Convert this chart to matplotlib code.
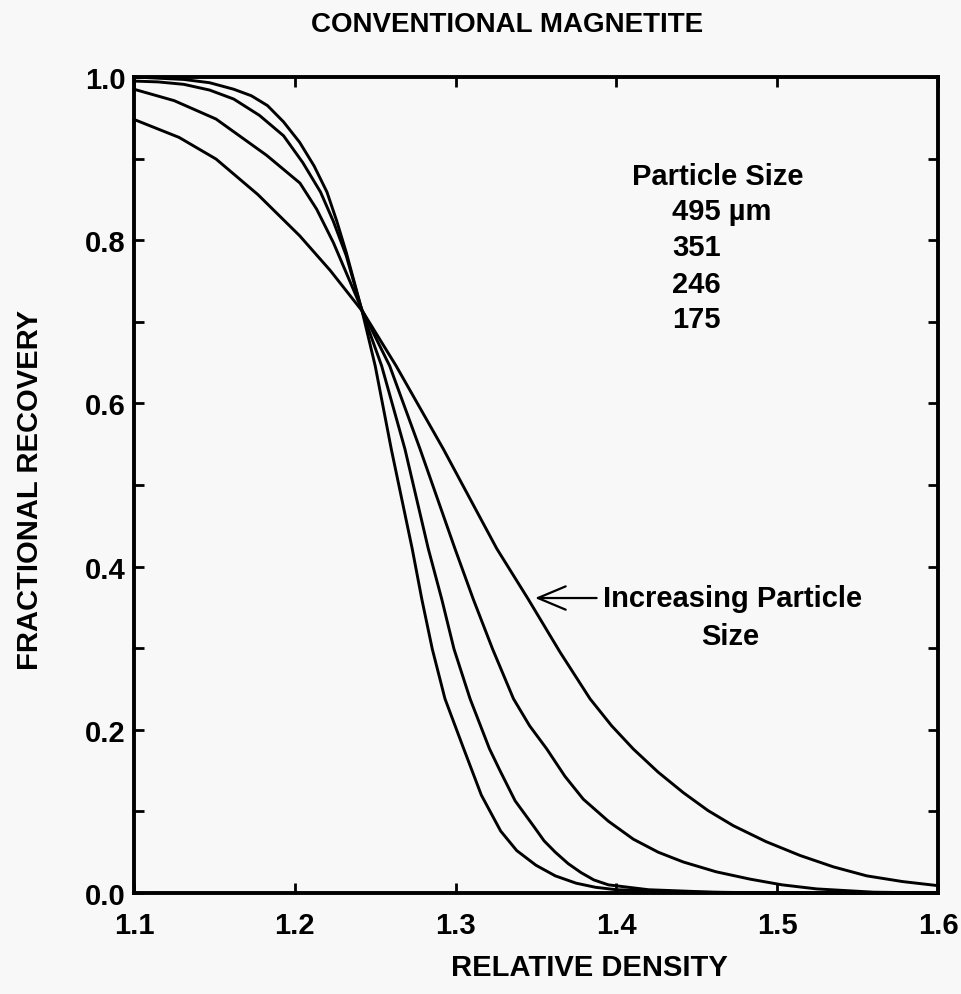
import matplotlib
matplotlib.use("Agg")
import matplotlib.pyplot as plt
from matplotlib.ticker import MultipleLocator

plt.rcParams['font.family'] = ['Liberation Sans', 'DejaVu Sans']
plt.rcParams['font.weight'] = 'bold'

# ---- data ----
rd_495 = [1.100, 1.131, 1.147, 1.162, 1.173, 1.183, 1.193, 1.203, 1.212, 1.220, 1.226, 1.232,
          1.242, 1.250, 1.260, 1.273, 1.279, 1.2855, 1.2934, 1.305, 1.316, 1.328, 1.338, 1.350,
          1.362, 1.375, 1.387, 1.400, 1.450, 1.500, 1.600]
rec_495 = [1.000, 0.997, 0.993, 0.985, 0.977, 0.965, 0.945, 0.920, 0.891, 0.859, 0.824, 0.785,
           0.712, 0.646, 0.544, 0.422, 0.360, 0.299, 0.238, 0.177, 0.120, 0.076, 0.052, 0.034,
           0.021, 0.012, 0.007, 0.004, 0.001, 0.000, 0.000]

rd_351 = [1.100, 1.115, 1.131, 1.147, 1.162, 1.178, 1.193, 1.205, 1.216, 1.224, 1.232, 1.242,
          1.254, 1.2685, 1.283, 1.2914, 1.299, 1.309, 1.321, 1.3276, 1.337, 1.3483, 1.355, 1.362,
          1.370, 1.378, 1.386, 1.395, 1.420, 1.460, 1.500, 1.600]
rec_351 = [0.995, 0.994, 0.991, 0.984, 0.973, 0.953, 0.928, 0.895, 0.859, 0.823, 0.781, 0.712,
           0.646, 0.544, 0.422, 0.360, 0.299, 0.238, 0.177, 0.150, 0.113, 0.0825, 0.064, 0.050,
           0.036, 0.025, 0.016, 0.010, 0.004, 0.001, 0.000, 0.000]

rd_246 = [1.100, 1.125, 1.151, 1.1825, 1.2032, 1.2136, 1.224, 1.2424, 1.259, 1.2779, 1.2996,
          1.311, 1.323, 1.336, 1.346, 1.3567, 1.368, 1.3794, 1.395, 1.4105, 1.426, 1.4416,
          1.462, 1.4831, 1.503, 1.5246, 1.560, 1.600]
rec_246 = [0.985, 0.971, 0.9485, 0.904, 0.870, 0.838, 0.797, 0.712, 0.646, 0.544, 0.422,
           0.360, 0.299, 0.238, 0.205, 0.1765, 0.143, 0.115, 0.088, 0.066, 0.050, 0.038,
           0.026, 0.017, 0.010, 0.005, 0.001, 0.000]

rd_175 = [1.100, 1.128, 1.151, 1.177, 1.203, 1.222, 1.2424, 1.263, 1.2924, 1.309, 1.3256,
          1.3452, 1.365, 1.3836, 1.397, 1.4105, 1.426, 1.4416, 1.457, 1.4727, 1.493, 1.5142,
          1.535, 1.5557, 1.578, 1.600]
rec_175 = [0.948, 0.926, 0.8995, 0.856, 0.8055, 0.763, 0.712, 0.646, 0.544, 0.483, 0.422,
           0.360, 0.295, 0.238, 0.205, 0.1765, 0.148, 0.123, 0.101, 0.0825, 0.063, 0.046,
           0.032, 0.021, 0.014, 0.009]

size_labels = ["495 \u00b5m", "351", "246", "175"]
x_ticks = [1.1, 1.2, 1.3, 1.4, 1.5, 1.6]
y_ticks = [0.0, 0.2, 0.4, 0.6, 0.8, 1.0]

bg = '#f8f8f8'
W, H = 961, 995
fig = plt.figure(figsize=(W / 100, H / 100), dpi=100, facecolor=bg)
ax = fig.add_axes([134 / W, 1 - 894 / H, (938 - 134) / W, (894 - 78) / H], facecolor=bg)

lw = 2.1
for xs, ys in [(rd_495, rec_495), (rd_351, rec_351), (rd_246, rec_246), (rd_175, rec_175)]:
    ax.plot(xs, ys, color='black', lw=lw, solid_capstyle='round', solid_joinstyle='round',
            clip_on=False)

ax.set_xlim(1.1, 1.6)
ax.set_ylim(0.0, 1.0)
ax.set_xticks(x_ticks)
ax.set_xticklabels([f"{v:.1f}" for v in x_ticks])
ax.set_yticks(y_ticks)
ax.set_yticklabels([f"{v:.1f}" for v in y_ticks])
ax.yaxis.set_minor_locator(MultipleLocator(0.1))

for s in ax.spines.values():
    s.set_linewidth(2.8)
ax.tick_params(which='both', direction='in', top=True, right=True, width=2.0, length=7)
ax.tick_params(axis='x', labelsize=21, pad=13)
ax.tick_params(axis='y', labelsize=21, pad=6)
for lab in ax.get_xticklabels() + ax.get_yticklabels():
    lab.set_fontweight('bold')

fig.text(507 / W, 1 - 25 / H, "CONVENTIONAL MAGNETITE", ha='center', va='center',
         fontsize=20, fontweight='bold')
fig.text(589 / W, 1 - 968 / H, "RELATIVE DENSITY", ha='center', va='center',
         fontsize=21, fontweight='bold')
fig.text(30 / W, 1 - 490 / H, "FRACTIONAL RECOVERY", ha='center', va='center',
         rotation=90, fontsize=21, fontweight='bold')

ax.text(1.4097, 0.879, "Particle Size", ha='left', va='center', fontsize=21, fontweight='bold')
for lab, yy in zip(size_labels, [0.836, 0.792, 0.746, 0.703]):
    ax.text(1.4346, yy, lab, ha='left', va='center', fontsize=21, fontweight='bold')

ax.annotate("", xy=(1.3494, 0.3615), xytext=(1.3877, 0.3615),
            arrowprops=dict(arrowstyle='->,head_length=1.0,head_width=0.42', lw=1.6,
                            color='black', mutation_scale=20, shrinkA=0, shrinkB=0))
ax.text(1.3917, 0.3615, "Increasing Particle", ha='left', va='center', fontsize=21, fontweight='bold')
ax.text(1.4706, 0.315, "Size", ha='center', va='center', fontsize=21, fontweight='bold')

fig.savefig("out.png", dpi=100, facecolor=bg)
